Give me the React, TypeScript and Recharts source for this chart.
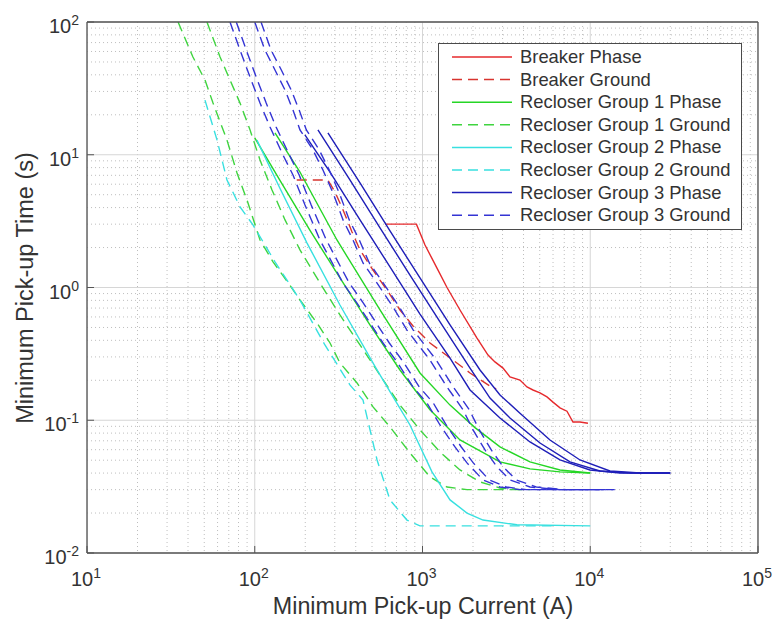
import React from 'react';
import { LineChart, Line, XAxis, YAxis, CartesianGrid, Legend } from 'recharts';

type Pt = [number, number];

// ---- tick values ----
const X_MAJOR_TICKS = [10, 100, 1000, 10000, 100000];
const Y_MAJOR_TICKS = [0.01, 0.1, 1, 10, 100];
const X_MINOR_TICKS = [
  20, 30, 40, 50, 60, 70, 80, 90,
  200, 300, 400, 500, 600, 700, 800, 900,
  2000, 3000, 4000, 5000, 6000, 7000, 8000, 9000,
  20000, 30000, 40000, 50000, 60000, 70000, 80000, 90000,
];
const Y_MINOR_TICKS = [
  0.02, 0.03, 0.04, 0.05, 0.06, 0.07, 0.08, 0.09,
  0.2, 0.3, 0.4, 0.5, 0.6, 0.7, 0.8, 0.9,
  2, 3, 4, 5, 6, 7, 8, 9,
  20, 30, 40, 50, 60, 70, 80, 90,
];

// ---- series data: [current (A), time (s)] ----
const BREAKER_PHASE: Pt[] = [
  [598, 3.0], [920, 3.0], [1035, 2.09], [1220, 1.4], [1400, 1.0], [1673, 0.677], [2113, 0.416],
  [2458, 0.31], [2704, 0.275], [3019, 0.247], [3323, 0.212], [3812, 0.201], [4196, 0.178],
  [4557, 0.169], [5016, 0.161], [5521, 0.15], [5996, 0.137], [6601, 0.124], [7265, 0.117],
  [7889, 0.097], [8686, 0.097], [9692, 0.095],
];
const BREAKER_GROUND: Pt[] = [
  [178, 6.45], [273, 6.45], [301, 5.24], [336, 3.84], [380, 2.62], [424, 1.92], [507, 1.35],
  [614, 0.958], [734, 0.677], [878, 0.513], [1108, 0.382], [1520, 0.284], [1920, 0.227],
  [2526, 0.181], [2750, 0.172],
];
const G1_PHASE_A: Pt[] = [
  [100, 13.4], [141, 6.45], [213, 2.71], [322, 1.18], [486, 0.522], [734, 0.239], [1108, 0.12],
  [1673, 0.071], [2897, 0.0485], [4372, 0.043], [6601, 0.0408], [10000, 0.04],
];
const G1_PHASE_B: Pt[] = [
  [132, 14.6], [186, 7.41], [309, 2.28], [558, 0.677], [966, 0.227], [1459, 0.13], [2055, 0.088],
  [2897, 0.063], [4372, 0.0485], [6601, 0.0422], [10000, 0.04],
];
const G1_GROUND_A: Pt[] = [
  [34.9, 100], [42.8, 54.5], [50.5, 36.6], [56.4, 24.5], [68.3, 12.9], [78.4, 7.29], [89.9, 4.56],
  [107.5, 2.28], [128.5, 1.56], [162, 1.04], [186, 0.805], [235, 0.54], [281, 0.382], [322, 0.27],
  [407, 0.191], [507, 0.126], [640, 0.089], [842, 0.0567], [1108, 0.0374], [1400, 0.0314],
  [1842, 0.03], [3812, 0.03],
];
const G1_GROUND_B: Pt[] = [
  [51.9, 100], [62.1, 54.5], [71.2, 36.6], [81.7, 24.5], [93.7, 15.4], [107.5, 9.13], [126.7, 5.43],
  [151.5, 3.23], [186, 1.92], [245, 1.08], [322, 0.621], [424, 0.369], [558, 0.219], [734, 0.13],
  [966, 0.0845], [1272, 0.0577], [1673, 0.0422], [2202, 0.0343], [2897, 0.0309], [3812, 0.03],
  [4372, 0.03],
];
const G2_PHASE: Pt[] = [
  [103, 12.9], [141, 5.62], [205, 2.16], [322, 0.738], [528, 0.247], [686, 0.142], [842, 0.0921],
  [1139, 0.0408], [1459, 0.0251], [1842, 0.02], [2295, 0.0177], [3658, 0.0163], [10000, 0.016],
];
const G2_GROUND: Pt[] = [
  [50.5, 25.8], [59.6, 12.9], [68.3, 6.45], [81.7, 4.04], [97.6, 2.96], [132, 1.56], [186, 0.805],
  [262, 0.369], [370, 0.184], [442, 0.142], [536, 0.0502], [640, 0.0251], [808, 0.0177],
  [966, 0.016], [6163, 0.016],
];
const G3_PHASE_A: Pt[] = [
  [199, 14.1], [281, 7.41], [424, 3.23], [640, 1.43], [966, 0.631], [1459, 0.294], [1920, 0.169],
  [2897, 0.104], [4372, 0.0686], [6601, 0.0502], [9961, 0.0422], [15030, 0.04], [30000, 0.04],
];
const G3_PHASE_B: Pt[] = [
  [238, 15.4], [370, 6.45], [558, 2.81], [842, 1.24], [1272, 0.55], [1920, 0.247], [2526, 0.147],
  [3323, 0.104], [5016, 0.0674], [7572, 0.0485], [11420, 0.0415], [17250, 0.04], [30000, 0.04],
];
const G3_PHASE_C: Pt[] = [
  [273, 14.6], [424, 6.13], [640, 2.67], [966, 1.18], [1459, 0.522], [2202, 0.239], [2897, 0.155],
  [3812, 0.113], [5754, 0.071], [8686, 0.0502], [13110, 0.0415], [19790, 0.04], [30000, 0.04],
];
const G3_GROUND_A: Pt[] = [
  [71.2, 100], [81.7, 61.5], [93.7, 38.5], [107.5, 24.5], [123.3, 16.2], [147.4, 9.95], [169, 7.04],
  [199.3, 4.18], [244.8, 2.28], [335.7, 1.08], [406.9, 0.764], [486.5, 0.54], [581.6, 0.382],
  [704.7, 0.275], [877.9, 0.178], [1063, 0.135], [1272, 0.0921], [1562, 0.0629], [1842, 0.0477],
  [2295, 0.0355], [2897, 0.0314], [3812, 0.03], [11420, 0.03],
];
const G3_GROUND_B: Pt[] = [
  [77.6, 100], [89, 61.5], [102, 38.5], [117, 24.5], [134, 16.2], [161, 9.95], [184, 7.04],
  [217, 4.18], [267, 2.28], [366, 1.08], [444, 0.764], [530, 0.54], [634, 0.382], [768, 0.275],
  [957, 0.178], [1159, 0.135], [1386, 0.0921], [1703, 0.0629], [2008, 0.0477], [2502, 0.0355],
  [3158, 0.0314], [4155, 0.03], [12000, 0.03],
];
const G3_GROUND_C: Pt[] = [
  [100, 100], [115, 61.5], [132, 43.5], [151.5, 30.7], [169, 21.7], [186, 15.4], [222, 10.9],
  [255, 7.67], [293, 5.15], [336, 3.23], [385, 2.28], [442, 1.53], [536, 1.08], [667, 0.713],
  [808, 0.478], [1108, 0.284], [1400, 0.178], [1744, 0.12], [2001, 0.0845], [2359, 0.0597],
  [2780, 0.0445], [3323, 0.0355], [4372, 0.0314], [6601, 0.03], [13660, 0.03],
];
const G3_GROUND_D: Pt[] = [
  [109, 100], [125, 61.5], [144, 43.5], [165, 30.7], [184, 21.7], [203, 15.4], [242, 10.9],
  [278, 7.67], [319, 5.15], [366, 3.23], [420, 2.28], [482, 1.53], [584, 1.08], [727, 0.713],
  [881, 0.478], [1208, 0.284], [1526, 0.178], [1901, 0.12], [2181, 0.0845], [2571, 0.0597],
  [3030, 0.0445], [3622, 0.0355], [4765, 0.0314], [7195, 0.03], [14000, 0.03],
];

const RED = '#e62a2d';
const RED_D = '#d8342f';
const GREEN = '#25d625';
const GREEN_D = '#3fd43f';
const CYAN = '#38e0e0';
const BLUE = '#1e1eb8';
const BLUE_D = '#3434d4';

const SERIES = [
  { name: 'Breaker Phase', color: RED, dashed: false, curves: [BREAKER_PHASE] },
  { name: 'Breaker Ground', color: RED_D, dashed: true, curves: [BREAKER_GROUND] },
  { name: 'Recloser Group 1 Phase', color: GREEN, dashed: false, curves: [G1_PHASE_A, G1_PHASE_B] },
  { name: 'Recloser Group 1 Ground', color: GREEN_D, dashed: true, curves: [G1_GROUND_A, G1_GROUND_B] },
  { name: 'Recloser Group 2 Phase', color: CYAN, dashed: false, curves: [G2_PHASE] },
  { name: 'Recloser Group 2 Ground', color: CYAN, dashed: true, curves: [G2_GROUND] },
  { name: 'Recloser Group 3 Phase', color: BLUE, dashed: false, curves: [G3_PHASE_A, G3_PHASE_B, G3_PHASE_C] },
  { name: 'Recloser Group 3 Ground', color: BLUE_D, dashed: true, curves: [G3_GROUND_A, G3_GROUND_B, G3_GROUND_C, G3_GROUND_D] },
];

const rows = (pts: Pt[]) => pts.map(([i, t]) => ({ i, t }));

const FONT = 'Arial, "Liberation Sans", Helvetica, sans-serif';
const TEXT = '#333333';
const DASH = '10 6';
const THIN = 0.01;

const expLabel = (v: number) => String(Math.round(Math.log10(v)));

const XTick = (props: any) => {
  const { x, y, payload } = props;
  return (
    <text x={x - 1} y={y + 33} textAnchor="middle" fontFamily={FONT} fill={TEXT}>
      <tspan fontSize={20}>10</tspan>
      <tspan fontSize={14} dy={-8}>{expLabel(payload.value)}</tspan>
    </text>
  );
};

const YTick = (props: any) => {
  const { x, y, payload } = props;
  return (
    <text x={x - 8} y={y + 11} textAnchor="end" fontFamily={FONT} fill={TEXT}>
      <tspan fontSize={20}>10</tspan>
      <tspan fontSize={14} dy={-8}>{expLabel(payload.value)}</tspan>
    </text>
  );
};

const LegendBox = () => (
  <div
    style={{
      width: 304,
      height: 187,
      background: '#ffffff',
      border: '1.3px solid #4a4a4a',
      boxSizing: 'border-box',
    }}
  >
    <svg width={302} height={185} style={{ display: 'block' }}>
      {SERIES.map((s, k) => {
        const cy = 13 + k * 22.6;
        return (
          <g key={s.name}>
            <line
              x1={13}
              x2={73}
              y1={cy}
              y2={cy}
              stroke={s.color}
              strokeWidth={1.5}
              strokeDasharray={s.dashed ? DASH : undefined}
            />
            <text x={81} y={cy + 6} fontSize={18.4} fontFamily={FONT} fill={TEXT}>
              {s.name}
            </text>
          </g>
        );
      })}
    </svg>
  </div>
);

const AXIS_COLOR = '#555555';

export default function App() {
  return (
    <div style={{ position: 'absolute', left: 0, top: 0, width: 777, height: 620 }}>
      <LineChart width={777} height={620} margin={{ top: 22, right: 19, bottom: 67, left: 87 }}>
        <CartesianGrid
          xAxisId="b"
          yAxisId="l"
          verticalValues={X_MINOR_TICKS}
          horizontalValues={Y_MINOR_TICKS}
          stroke="#bdbdbd"
          strokeDasharray="1 3"
          fill="none"
        />
        <CartesianGrid xAxisId="b" yAxisId="l" stroke="#d6d6d6" fill="none" />

        {SERIES.flatMap((s, si) =>
          s.curves.map((c, ci) => (
            <Line
              key={`${si}-${ci}`}
              xAxisId="b"
              yAxisId="l"
              data={rows(c)}
              dataKey="t"
              name={s.name}
              stroke={s.color}
              strokeWidth={1.4}
              strokeDasharray={s.dashed ? DASH : undefined}
              dot={false}
              activeDot={false}
              isAnimationActive={false}
              type="linear"
            />
          ))
        )}

        <XAxis xAxisId="b" type="number" dataKey="i" scale="log" domain={[10, 100000]} allowDataOverflow
          ticks={X_MAJOR_TICKS} interval={0} height={THIN} tick={<XTick />} tickSize={-7} tickMargin={7}
          axisLine={{ stroke: AXIS_COLOR, strokeWidth: 1.3 }} tickLine={{ stroke: AXIS_COLOR }} />
        <XAxis xAxisId="bm" type="number" dataKey="i" scale="log" domain={[10, 100000]} allowDataOverflow
          ticks={X_MINOR_TICKS} interval={0} height={THIN} tick={false} tickSize={-4} axisLine={false}
          tickLine={{ stroke: AXIS_COLOR }} />
        <XAxis xAxisId="t" orientation="top" type="number" dataKey="i" scale="log" domain={[10, 100000]} allowDataOverflow
          ticks={X_MAJOR_TICKS} interval={0} height={THIN} tick={false} tickSize={-7}
          axisLine={{ stroke: AXIS_COLOR, strokeWidth: 1.3 }} tickLine={{ stroke: AXIS_COLOR }} />
        <XAxis xAxisId="tm" orientation="top" type="number" dataKey="i" scale="log" domain={[10, 100000]} allowDataOverflow
          ticks={X_MINOR_TICKS} interval={0} height={THIN} tick={false} tickSize={-4} axisLine={false}
          tickLine={{ stroke: AXIS_COLOR }} />
        <YAxis yAxisId="l" type="number" dataKey="t" scale="log" domain={[0.01, 100]} allowDataOverflow
          ticks={Y_MAJOR_TICKS} interval={0} width={THIN} tick={<YTick />} tickSize={-7} tickMargin={7}
          axisLine={{ stroke: AXIS_COLOR, strokeWidth: 1.3 }} tickLine={{ stroke: AXIS_COLOR }} />
        <YAxis yAxisId="lm" type="number" dataKey="t" scale="log" domain={[0.01, 100]} allowDataOverflow
          ticks={Y_MINOR_TICKS} interval={0} width={THIN} tick={false} tickSize={-4} axisLine={false}
          tickLine={{ stroke: AXIS_COLOR }} />
        <YAxis yAxisId="r" orientation="right" type="number" dataKey="t" scale="log" domain={[0.01, 100]} allowDataOverflow
          ticks={Y_MAJOR_TICKS} interval={0} width={THIN} tick={false} tickSize={-7}
          axisLine={{ stroke: AXIS_COLOR, strokeWidth: 1.3 }} tickLine={{ stroke: AXIS_COLOR }} />
        <YAxis yAxisId="rm" orientation="right" type="number" dataKey="t" scale="log" domain={[0.01, 100]} allowDataOverflow
          ticks={Y_MINOR_TICKS} interval={0} width={THIN} tick={false} tickSize={-4} axisLine={false}
          tickLine={{ stroke: AXIS_COLOR }} />

        <text x={423} y={614} textAnchor="middle" fontSize={23.3} fontFamily={FONT} fill={TEXT}>
          Minimum Pick-up Current (A)
        </text>
        <text x={33} y={288} textAnchor="middle" fontSize={23.5} fontFamily={FONT} fill={TEXT}
          transform="rotate(-90, 33, 288)">
          Minimum Pick-up Time (s)
        </text>

        <Legend
          layout="horizontal"
          verticalAlign="middle"
          align="center"
          content={<LegendBox />}
          wrapperStyle={{ left: 438, top: 43, width: 304, height: 187 }}
        />
      </LineChart>
    </div>
  );
}
